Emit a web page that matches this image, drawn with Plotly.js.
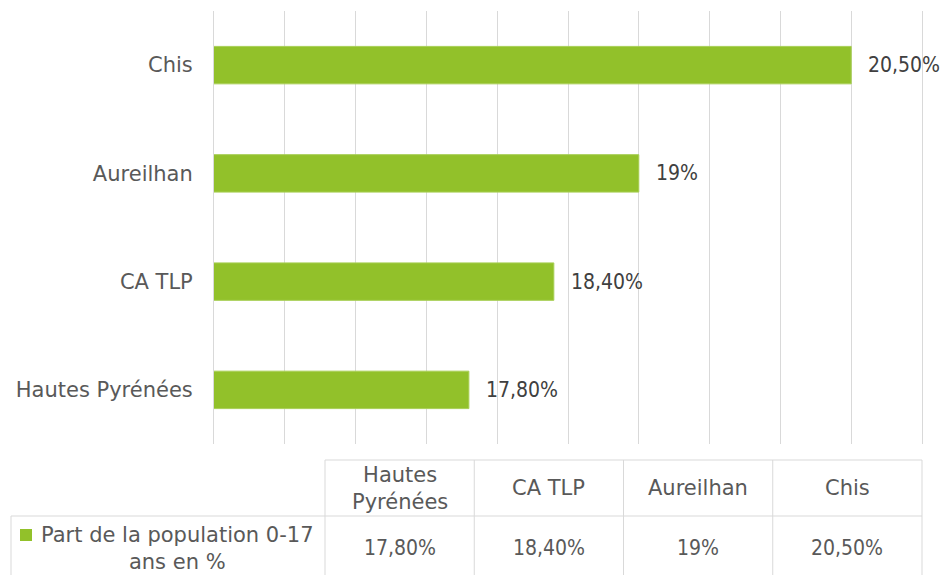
<!DOCTYPE html>
<html><head><meta charset="utf-8">
<script src="https://cdn.plot.ly/plotly-3.0.1.min.js"></script>
<style>html,body{margin:0;padding:0;background:#fff}</style>
</head><body><div id="chart" style="width:944px;height:575px"></div>
<script>
// ---- data ----
const categories = ['Hautes Pyrénées', 'CA TLP', 'Aureilhan', 'Chis'];
const tableHeaders = ['Hautes<br>Pyrénées', 'CA TLP', 'Aureilhan', 'Chis'];
const values = [17.8, 18.4, 19, 20.5];
const seriesName = 'Part de la population 0-17<br>ans en %';

// ---- layout constants ----
const W = 944, H = 575;
const fmt = v => (Number.isInteger(v) ? String(v) : v.toFixed(2).replace('.', ',')) + '%';
const px = x => x / W, py = y => 1 - y / H;

const GREEN = '#92c12a', GRID = '#d9d9d9', TXT = '#595959', LBL = '#404040';
const FONT = 'DejaVu Sans, sans-serif';
const NUMFONT = 'DejaVu Sans Condensed, DejaVu Sans, sans-serif';
const FS = 21;

const plotL = 214, plotR = 922, plotT = 11, plotB = 444;
const tblTop = 460, tblMid = 516, tblBot = 590, tblLeft = 11, firstColR = 325;
const colW = (plotR - firstColR) / categories.length;

const trace = {
  type: 'bar', orientation: 'h', x: values, y: categories,
  marker: {color: GREEN, line: {color: '#a8cf55', width: 1}},
  hoverinfo: 'skip'
};

const annotations = [];
const shapes = [];
const line = (x0, y0, x1, y1) => shapes.push({type: 'line', xref: 'paper', yref: 'paper',
  x0: px(x0), x1: px(x1), y0: py(y0), y1: py(y1), line: {color: GRID, width: 1}});

// data labels
values.forEach((v, i) => {
  annotations.push({x: v, y: categories[i], xref: 'x', yref: 'y', text: fmt(v), showarrow: false,
    xanchor: 'left', yanchor: 'middle', xshift: 15, font: {family: NUMFONT, size: FS, color: LBL}});
});

// data table
line(firstColR, tblTop, plotR, tblTop);
line(tblLeft, tblMid, plotR, tblMid);
line(tblLeft, tblMid, tblLeft, tblBot);
for (let i = 0; i <= categories.length; i++) {
  const x = firstColR + i * colW;
  line(x, tblTop, x, tblBot);
}
const hdrY = (tblTop + tblMid) / 2, rowY = 548;
categories.forEach((c, i) => {
  const cx = firstColR + (i + 0.5) * colW;
  annotations.push({x: px(cx), y: py(hdrY), xref: 'paper', yref: 'paper', text: tableHeaders[i],
    showarrow: false, xanchor: 'center', yanchor: 'middle', align: 'center',
    font: {family: FONT, size: FS, color: TXT}});
  annotations.push({x: px(cx), y: py(rowY), xref: 'paper', yref: 'paper', text: fmt(values[i]),
    showarrow: false, xanchor: 'center', yanchor: 'middle',
    font: {family: NUMFONT, size: FS, color: TXT}});
});
// series legend key
annotations.push({x: px(177), y: py(rowY), xref: 'paper', yref: 'paper', text: seriesName,
  showarrow: false, xanchor: 'center', yanchor: 'middle', align: 'center',
  font: {family: FONT, size: FS, color: TXT}});
shapes.push({type: 'rect', xref: 'paper', yref: 'paper', x0: px(20), x1: px(32), y0: py(541), y1: py(529),
  fillcolor: GREEN, line: {width: 0}});

const layout = {
  width: W, height: H,
  margin: {l: 0, r: 0, t: 0, b: 0},
  paper_bgcolor: '#fff', plot_bgcolor: '#fff',
  showlegend: false,
  bargap: 0.654,
  xaxis: {
    domain: [px(plotL), px(plotR)], range: [16, 21], tick0: 16, dtick: 0.5,
    showticklabels: false, showgrid: true, gridcolor: GRID, gridwidth: 1,
    zeroline: false, ticks: '', showline: false, fixedrange: true
  },
  yaxis: {
    domain: [py(plotB), py(plotT)], type: 'category',
    categoryorder: 'array', categoryarray: categories,
    showline: true, mirror: true, linecolor: GRID, linewidth: 1,
    ticks: 'outside', ticklen: 16, tickcolor: 'rgba(0,0,0,0)',
    tickfont: {family: FONT, size: FS, color: TXT},
    showgrid: false, zeroline: false, automargin: false, fixedrange: true
  },
  annotations: annotations,
  shapes: shapes
};

Plotly.newPlot('chart', [trace], layout, {displayModeBar: false, staticPlot: true});
</script>
</body></html>
